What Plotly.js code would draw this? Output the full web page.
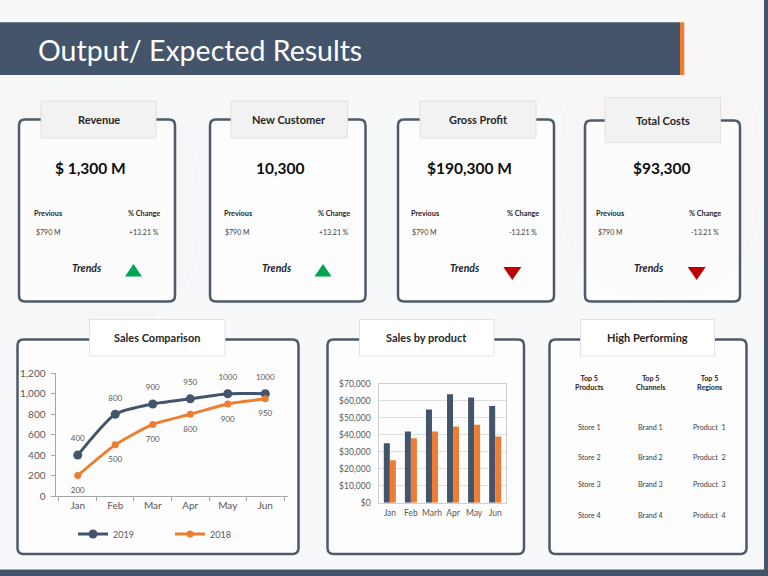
<!DOCTYPE html>
<html>
<head>
<meta charset="utf-8">
<script src="https://cdn.plot.ly/plotly-3.0.1.min.js"></script>
<style>html,body{margin:0;padding:0;background:#f7f8fa;}#chart{width:768px;height:576px;}</style>
</head>
<body>
<div id="chart"></div>
<script>
// ---------------- DATA ----------------
const pageTitle = 'Output/ Expected Results';

const kpiTitles   = ['Revenue', 'New Customer', 'Gross Profit', 'Total Costs'];
const kpiValues   = ['$ 1,300 M', '10,300', '$190,300 M', '$93,300'];
const kpiPrevious = ['$790 M', '$790 M', '$790 M', '$790 M'];
const kpiChange   = ['+13.21 %', '+13.21 %', '-13.21 %', '-13.21 %'];
const kpiTrendUp  = [true, true, false, false];

const lineMonths  = ['Jan', 'Feb', 'Mar', 'Apr', 'May', 'Jun'];
const sales2019   = [400, 800, 900, 950, 1000, 1000];
const sales2018   = [200, 500, 700, 800, 900, 950];

const barMonths   = ['Jan', 'Feb', 'Marh', 'Apr', 'May', 'Jun'];
const productA    = [35000, 42000, 55000, 64000, 62000, 57000];
const productB    = [25000, 38000, 42000, 45000, 46000, 39000];

const panelTitles = ['Sales Comparison', 'Sales by product', 'High Performing'];
const hpHeaders   = ['Top 5<br>Products', 'Top 5<br>Channels', 'Top 5<br>Regions'];
const hpStores    = ['Store 1', 'Store 2', 'Store 3', 'Store 4'];
const hpBrands    = ['Brand 1', 'Brand 2', 'Brand 3', 'Brand 4'];
const hpProducts  = ['Product  1', 'Product  2', 'Product  3', 'Product  4'];

// ---------------- GEOMETRY / STYLE ----------------
const W = 768, H = 576;
const X = p => p / W;
const Y = p => 1 - p / H;
const NAVY = '#44546a', ORANGE = '#ed7d31', BORDER = '#4f5968';
const FONT = 'Lato, "Open Sans", sans-serif';

function rr(x0, y0, x1, y1, r) {
  const f = (x, y) => X(x).toFixed(5) + ',' + Y(y).toFixed(5);
  return 'M' + f(x0 + r, y0) + ' L' + f(x1 - r, y0) + ' Q' + f(x1, y0) + ' ' + f(x1, y0 + r) +
         ' L' + f(x1, y1 - r) + ' Q' + f(x1, y1) + ' ' + f(x1 - r, y1) +
         ' L' + f(x0 + r, y1) + ' Q' + f(x0, y1) + ' ' + f(x0, y1 - r) +
         ' L' + f(x0, y0 + r) + ' Q' + f(x0, y0) + ' ' + f(x0 + r, y0) + ' Z';
}
function rect(x0, y0, x1, y1, fill, line, lw) {
  return {type: 'rect', xref: 'paper', yref: 'paper', x0: X(x0), x1: X(x1), y0: Y(y1), y1: Y(y0),
          fillcolor: fill, line: {color: line || fill, width: lw || 0}, layer: 'below'};
}
function pathShape(d, fill, line, lw) {
  return {type: 'path', xref: 'paper', yref: 'paper', path: d, fillcolor: fill,
          line: {color: line || fill, width: lw === undefined ? 0 : lw}, layer: 'below'};
}
function ann(text, cx, cy, size, opts) {
  opts = opts || {};
  return Object.assign({text: text, xref: 'paper', yref: 'paper', x: X(cx), y: Y(cy), xanchor: 'center', yanchor: 'middle',
          showarrow: false, font: {family: FONT, size: size, color: opts.color || '#262626', weight: opts.weight || 400,
          style: opts.style || 'normal'}}, opts.extra || {});
}

const cardGeo = [
  {x0: 19,  x1: 175,   y0: 119.5, lx0: 41,  lx1: 156,   ly0: 101,  ly1: 138,   vx: 90,  px: 48,    cx: 144, tx: 87,  trx: 133.5},
  {x0: 210, x1: 365.5, y0: 119.5, lx0: 231, lx1: 347.5, ly0: 101,  ly1: 138,   vx: 280, px: 237.5, cx: 334, tx: 277, trx: 323},
  {x0: 398, x1: 554,   y0: 119.5, lx0: 420, lx1: 536,   ly0: 101,  ly1: 138,   vx: 469, px: 424.5, cx: 523, tx: 465, trx: 512.3},
  {x0: 585, x1: 740,   y0: 120.5, lx0: 605, lx1: 720.5, ly0: 97.5, ly1: 142.5, vx: 662, px: 610,   cx: 705, tx: 649, trx: 696.7}
];
const cardBottom = 301.5;

const panelGeo = [
  {x0: 17.5,  x1: 298.5, lx0: 89.5,  lx1: 225},
  {x0: 327.5, x1: 524,   lx0: 359.5, lx1: 494},
  {x0: 549.5, x1: 746.5, lx0: 580.5, lx1: 714.5}
];
const panelTop = 339.5, panelBottom = 554, panelLabelTop = 319.5, panelLabelBottom = 356;

const hpColX = [589.5, 650, 709];
const hpRowY = [427.7, 457, 484.3, 515.7];

// ---------------- SHAPES & ANNOTATIONS ----------------
const shapes = [];
const annotations = [];

// very faint background decoration
shapes.push(pathShape(rr(560, 40, 760, 300, 110), 'rgba(237,125,49,0.025)', 'rgba(0,0,0,0)', 0));
shapes.push(pathShape(rr(-30, 90, 200, 330, 110), 'rgba(237,125,49,0.018)', 'rgba(0,0,0,0)', 0));

// header bar
shapes.push(rect(0, 22.3, 680, 75, NAVY));
shapes.push(rect(680, 22.3, 684.3, 75, ORANGE));
annotations.push(ann(pageTitle, 36, 49.5, 28.5, {color: '#ffffff', extra: {xanchor: 'left'}}));
// right strip and bottom band
shapes.push(rect(764, 0, 768, 576, NAVY));
shapes.push(rect(0, 569.5, 768, 576, NAVY));

// KPI cards
kpiTitles.forEach((t, i) => {
  const g = cardGeo[i];
  shapes.push(pathShape(rr(g.x0, g.y0, g.x1, cardBottom, 6), 'rgba(253,253,254,0.9)', BORDER, 2.5));
  shapes.push(rect(g.lx0, g.ly0, g.lx1, g.ly1, '#f2f2f2', '#dcdcdc', 0.8));
  annotations.push(ann('<b>' + t + '</b>', (g.lx0 + g.lx1) / 2, (g.ly0 + g.ly1) / 2, 11, {color: '#262626'}));
  annotations.push(ann('<b>' + kpiValues[i] + '</b>', g.vx, 167.5, 15.5, {color: '#0d0d0d'}));
  annotations.push(ann('<b>Previous</b>', g.px, 213, 7.3, {color: '#262626'}));
  annotations.push(ann('<b>% Change</b>', g.cx, 213, 7.3, {color: '#262626'}));
  annotations.push(ann(kpiPrevious[i], g.px, 232, 7, {color: '#404040'}));
  annotations.push(ann(kpiChange[i], g.cx, 232, 7, {color: '#404040'}));
  annotations.push(ann('<b><i>Trends</i></b>', g.tx, 268, 10.5, {color: '#262626'}));
  const tx = g.trx;
  let d;
  if (kpiTrendUp[i]) {
    d = 'M' + X(tx - 8.5) + ',' + Y(276.5) + ' L' + X(tx + 8.5) + ',' + Y(276.5) + ' L' + X(tx) + ',' + Y(264) + ' Z';
    shapes.push(pathShape(d, '#00a550', '#00a550', 0));
  } else {
    d = 'M' + X(tx - 9) + ',' + Y(267) + ' L' + X(tx + 9) + ',' + Y(267) + ' L' + X(tx) + ',' + Y(280) + ' Z';
    shapes.push(pathShape(d, '#c00000', '#c00000', 0));
  }
});

// bottom panels
panelTitles.forEach((t, i) => {
  const g = panelGeo[i];
  shapes.push(pathShape(rr(g.x0, panelTop, g.x1, panelBottom, 6), 'rgba(253,253,254,0.9)', BORDER, 2.5));
  shapes.push(rect(g.lx0, panelLabelTop, g.lx1, panelLabelBottom, '#ffffff', '#dcdcdc', 0.8));
  annotations.push(ann('<b>' + t + '</b>', (g.lx0 + g.lx1) / 2, (panelLabelTop + panelLabelBottom) / 2, 11, {color: '#262626'}));
});

// High performing table
hpHeaders.forEach((h, j) => {
  annotations.push(ann('<b>' + h + '</b>', hpColX[j], 383.3, 7.2, {color: '#262626'}));
});
[hpStores, hpBrands, hpProducts].forEach((col, j) => {
  col.forEach((v, r) => {
    annotations.push(ann(v, hpColX[j], hpRowY[r], 7.2, {color: '#404040'}));
  });
});

// ---------------- TRACES ----------------
const labelFont = {family: FONT, size: 8, color: '#595959'};
const traces = [
  {type: 'scatter', mode: 'lines+markers', name: '2019', x: lineMonths, y: sales2019,
   line: {color: NAVY, width: 3, shape: 'spline', smoothing: 0.6}, marker: {color: NAVY, size: 9},
   xaxis: 'x', yaxis: 'y'},
  {type: 'scatter', mode: 'lines+markers', name: '2018', x: lineMonths, y: sales2018,
   line: {color: ORANGE, width: 3, shape: 'spline', smoothing: 0.6}, marker: {color: ORANGE, size: 7},
   xaxis: 'x', yaxis: 'y'},
  // data labels (invisible larger markers push the labels away from the points)
  {type: 'scatter', mode: 'markers+text', x: lineMonths, y: sales2019, text: sales2019.map(String),
   textposition: 'top center', textfont: labelFont, cliponaxis: false, marker: {size: 17, opacity: 0},
   showlegend: false, hoverinfo: 'skip', xaxis: 'x', yaxis: 'y'},
  {type: 'scatter', mode: 'markers+text', x: lineMonths, y: sales2018, text: sales2018.map(String),
   textposition: 'bottom center', textfont: labelFont, cliponaxis: false, marker: {size: 17, opacity: 0},
   showlegend: false, hoverinfo: 'skip', xaxis: 'x', yaxis: 'y'},
  {type: 'bar', name: 'Product A', x: barMonths, y: productA, marker: {color: NAVY},
   xaxis: 'x2', yaxis: 'y2', showlegend: false, hoverinfo: 'skip'},
  {type: 'bar', name: 'Product B', x: barMonths, y: productB, marker: {color: ORANGE},
   xaxis: 'x2', yaxis: 'y2', showlegend: false, hoverinfo: 'skip'}
];

const tickFont = {family: FONT, size: 10, color: '#595959'};
const layout = {
  width: W, height: H,
  margin: {l: 0, r: 0, t: 0, b: 0, pad: 0},
  paper_bgcolor: '#f7f8fa', plot_bgcolor: 'rgba(0,0,0,0)',
  font: {family: FONT, color: '#595959'},
  showlegend: true,
  legend: {orientation: 'h', x: X(73), y: Y(534), xanchor: 'left', yanchor: 'middle',
           font: {family: FONT, size: 9, color: '#595959'}, bgcolor: 'rgba(0,0,0,0)',
           entrywidth: 52, entrywidthmode: 'pixels', itemwidth: 30},
  barmode: 'group', bargap: 0.43, bargroupgap: 0,
  xaxis: {domain: [X(55.5), X(287.5)], anchor: 'y', type: 'category', tickson: 'boundaries',
          ticks: 'outside', ticklen: 4, tickcolor: '#a6a6a6', showline: true, linecolor: '#a6a6a6', linewidth: 1,
          showgrid: false, zeroline: false, tickfont: tickFont, fixedrange: true},
  yaxis: {domain: [Y(496), Y(373.3)], anchor: 'x', range: [0, 1200], dtick: 200, tickformat: ',d',
          ticks: 'outside', ticklen: 4, tickcolor: '#a6a6a6', showline: true, linecolor: '#a6a6a6', linewidth: 1,
          showgrid: false, zeroline: false, tickfont: tickFont, ticklabelstandoff: 3, fixedrange: true},
  xaxis2: {domain: [X(379.3), X(505.7)], anchor: 'y2', type: 'category', ticks: '',
           showline: true, mirror: true, linecolor: '#cfcfcf', linewidth: 1, showgrid: false, zeroline: false,
           tickfont: {family: FONT, size: 8.5, color: '#595959'}, ticklabelstandoff: 2, fixedrange: true},
  yaxis2: {domain: [Y(502.7), Y(384)], anchor: 'x2', range: [0, 70000], dtick: 10000, tickprefix: '$', tickformat: ',d',
           ticks: '', showline: true, mirror: true, linecolor: '#cfcfcf', linewidth: 1,
           showgrid: true, gridcolor: '#dedede', zeroline: false,
           tickfont: {family: FONT, size: 8.5, color: '#595959'}, ticklabelstandoff: 6, fixedrange: true},
  shapes: shapes,
  annotations: annotations
};

Plotly.newPlot('chart', traces, layout, {displayModeBar: false, staticPlot: true});
</script>
</body>
</html>
